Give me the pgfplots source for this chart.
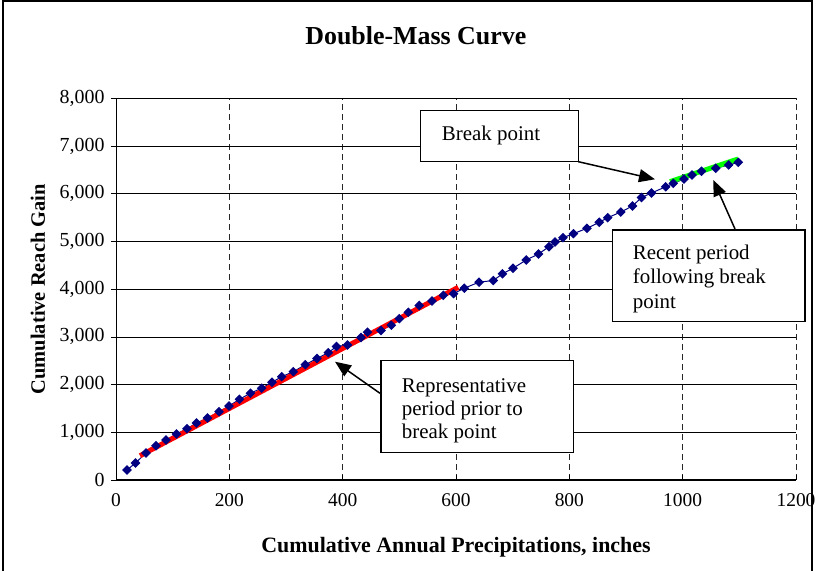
\documentclass[border=0pt]{standalone}
\usepackage{fontspec}
\setmainfont{Liberation Serif}
\usepackage{pgfplots}
\usepackage{pgfplotstable}
\pgfplotsset{compat=1.18}
\usetikzlibrary{arrows.meta}
\definecolor{navy}{RGB}{0,0,128}
\definecolor{brightgreen}{RGB}{0,255,0}

\pgfplotstableread{
x y
19.4 210
34.4 356
52.9 566
70.6 719
88.2 839
106.8 964
125.3 1075
142.1 1195
161.5 1300
181.8 1432
199.4 1551
217.9 1692
237.3 1820
257.1 1925
275.3 2050
292.4 2166
312.9 2270
334.0 2417
354.7 2547
374.6 2669
389.1 2799
408.5 2830
432.3 2987
443.8 3099
467.6 3134
485.8 3245
499.9 3382
515.8 3516
535.2 3658
557.6 3753
577.6 3872
595.6 3906
614.6 4021
640.6 4147
665.8 4182
682.0 4323
700.6 4440
724.0 4612
745.5 4738
764.1 4891
774.7 4990
788.8 5080
807.3 5164
831.1 5277
852.8 5403
867.7 5499
890.8 5618
911.4 5744
927.3 5922
945.0 6017
970.0 6147
983.4 6220
1002.3 6310
1016.4 6394
1033.2 6472
1058.4 6535
1081.2 6604
1098.1 6660
}\dmdata

\begin{document}
\begin{tikzpicture}
\useasboundingbox (0,0) rectangle (816bp,571bp);
\begin{axis}[
  at={(116bp,91bp)}, anchor=south west,
  scale only axis, width=680bp, height=381.6bp,
  xmin=0, xmax=1200, ymin=0, ymax=8000,
  xtick={0,200,...,1200}, ytick={0,1000,...,8000},
  axis x line=bottom, axis y line=left,
  axis line style={-, black, line width=1bp},
  xtick align=inside, ytick align=outside,
  major tick length=5bp,
  tick style={black, line width=0.8bp},
  grid=major,
  x grid style={black!85, line width=0.8bp, dash pattern=on 6bp off 4bp},
  y grid style={black, line width=0.8bp},
  x tick label style={font=\fontsize{19.5}{23}\selectfont, yshift=-10bp},
  y tick label style={font=\fontsize{20}{23}\selectfont, xshift=-3bp},
  x tick label style={/pgf/number format/.cd, set thousands separator={}, assume math mode=true},
  y tick label style={/pgf/number format/.cd, 1000 sep={,}, assume math mode=true},
  scaled ticks=false,
  title={Double-Mass Curve},
  title style={font=\bfseries\fontsize{26}{30}\selectfont, at={(axis description cs:0.441,1.148)}, anchor=center},
  xlabel={Cumulative Annual Precipitations, inches},
  xlabel style={font=\bfseries\fontsize{22}{26}\selectfont, at={(axis description cs:0.5,-0.1756)}, anchor=center},
  ylabel={Cumulative Reach Gain},
  ylabel style={font=\bfseries\fontsize{20.5}{24}\selectfont, at={(axis description cs:-0.1147,0.5)}, anchor=center},
  clip=false,
]
\addplot[navy, line width=1bp, mark=square*, mark size=2.9bp, mark options={rotate=45, solid, fill=navy, draw=navy}] table[x=x,y=y] {\dmdata};
\addplot[red, line width=5bp] coordinates {(42.4,509) (604,4040)};
\addplot[brightgreen, line width=5bp] coordinates {(977.6,6254) (1098,6730)};
\end{axis}
% outer frame
\draw[black, line width=1.5bp] (3bp,-5bp) -- (3bp,570bp) -- (812bp,570bp) -- (812bp,-5bp);
\begin{scope}[x=1bp,y=-1bp,yshift=571bp]
  \draw[black, line width=1.5bp, fill=white] (420.7,110.7) rectangle (578.3,161.7);
  \node[anchor=base west, inner sep=0, font=\fontsize{21}{25}\selectfont] at (441.7,140.7) {Break point};
  \draw[black, line width=1.5bp, -{Triangle[length=16bp,width=13bp]}] (578.3,161.7) -- (655,179.3);

  \draw[black, line width=1.5bp, fill=white] (612.7,230) rectangle (805,321.7);
  \node[anchor=base west, inner sep=0, font=\fontsize{21}{25}\selectfont] at (632.7,259.3) {Recent period};
  \node[anchor=base west, inner sep=0, font=\fontsize{21}{25}\selectfont] at (632.7,284) {following break};
  \node[anchor=base west, inner sep=0, font=\fontsize{21}{25}\selectfont] at (632.7,308.3) {point};
  \draw[black, line width=1.5bp, -{Triangle[length=16bp,width=13bp]}] (735,229) -- (713.3,180);

  \draw[black, line width=1.5bp, fill=white] (381,360.7) rectangle (573.3,452.3);
  \node[anchor=base west, inner sep=0, font=\fontsize{21}{25}\selectfont] at (401.7,392.3) {Representative};
  \node[anchor=base west, inner sep=0, font=\fontsize{21}{25}\selectfont] at (401.7,415.3) {period prior to};
  \node[anchor=base west, inner sep=0, font=\fontsize{21}{25}\selectfont] at (401.7,438.3) {break point};
  \draw[black, line width=1.5bp, -{Triangle[length=16bp,width=13bp]}] (380,393.3) -- (335,361.7);
\end{scope}
\end{tikzpicture}
\end{document}
